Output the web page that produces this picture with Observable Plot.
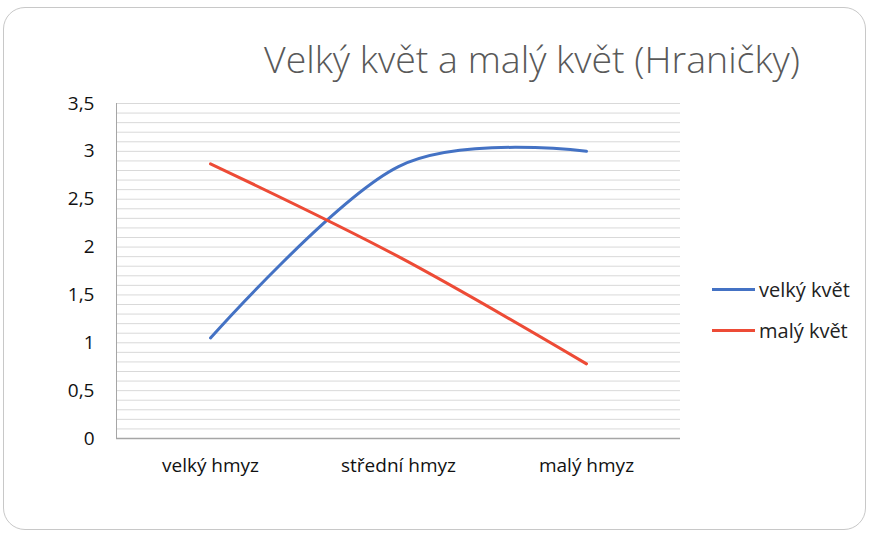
<!DOCTYPE html>
<html>
<head>
<meta charset="utf-8">
<script src="https://cdn.jsdelivr.net/npm/d3@7"></script>
<script src="https://cdn.jsdelivr.net/npm/@observablehq/plot@0.6"></script>
<style>
  html, body { margin: 0; padding: 0; background: #fff; }
  #wrap { position: relative; width: 870px; height: 535px; overflow: hidden; font-family: "Open Sans", sans-serif; }
  #border { position: absolute; left: 3px; top: 7px; width: 863px; height: 523px; border: 1px solid #c8c8c8; border-radius: 22px; box-sizing: border-box; }
  #title { position: absolute; left: 0; top: 40px; width: 100%; padding-left: 194px; box-sizing: border-box; text-align: center; font-size: 37.5px; font-weight: 300; color: #595959; white-space: nowrap; line-height: 1; }
  #legend { position: absolute; left: 712px; top: 277px; font-size: 20px; color: #222; }
  .item { display: flex; align-items: center; height: 24px; margin-bottom: 17px; }
  .swatch { width: 43px; height: 3px; margin-right: 4px; }
  #chart { position: absolute; left: 0; top: 0; }
  #chart svg text { font-size: 19px; }
</style>
</head>
<body>
<div id="wrap">
  <div id="border"></div>
  <div id="chart"></div>
  <div id="title">Velký květ a malý květ (Hraničky)</div>
  <div id="legend"></div>
</div>
<script>
const categories = ["velký hmyz", "střední hmyz", "malý hmyz"];
const seriesNames = ["velký květ", "malý květ"];
const velkyKvet = [1.05, 2.84, 3.0];
const malyKvet = [2.87, 1.9, 0.78];
const yTicks = [0, 0.5, 1, 1.5, 2, 2.5, 3, 3.5];
const colors = ["#4472c4", "#ed4b36"];

const data = [];
categories.forEach((c, i) => {
  data.push({cat: c, series: seriesNames[0], value: velkyKvet[i]});
  data.push({cat: c, series: seriesNames[1], value: malyKvet[i]});
});
const gridValues = d3.range(0, 36).map(d => d / 10);

const chart = Plot.plot({
  width: 870,
  height: 535,
  marginLeft: 116,
  marginRight: 190,
  marginTop: 103,
  marginBottom: 97,
  style: {fontFamily: "'Open Sans', sans-serif", fontSize: "19px", color: "#111", background: "transparent"},
  x: {type: "point", domain: categories, padding: 0.5, label: null},
  y: {domain: [0, 3.5], label: null},
  color: {domain: seriesNames, range: colors},
  marks: [
    Plot.ruleY(gridValues, {stroke: "#d9d9d9", strokeWidth: 1}),
    Plot.frame({anchor: "left", stroke: "#a6a6a6"}),
    Plot.ruleY([0], {stroke: "#a6a6a6", strokeWidth: 1.3}),
    Plot.axisY(yTicks, {tickSize: 0, tickPadding: 22, tickFormat: d => String(d).replace(".", ","), label: null}),
    Plot.axisX({tickSize: 0, tickPadding: 20, label: null}),
    Plot.line(data, {x: "cat", y: "value", z: "series", stroke: "series", strokeWidth: 3, curve: "cardinal", tension: 0})
  ]
});
document.getElementById("chart").appendChild(chart);

const legend = document.getElementById("legend");
seriesNames.forEach((s, i) => {
  const item = document.createElement("div");
  item.className = "item";
  const sw = document.createElement("div");
  sw.className = "swatch";
  sw.style.background = colors[i];
  const t = document.createElement("span");
  t.textContent = s;
  item.appendChild(sw);
  item.appendChild(t);
  legend.appendChild(item);
});
</script>
</body>
</html>
